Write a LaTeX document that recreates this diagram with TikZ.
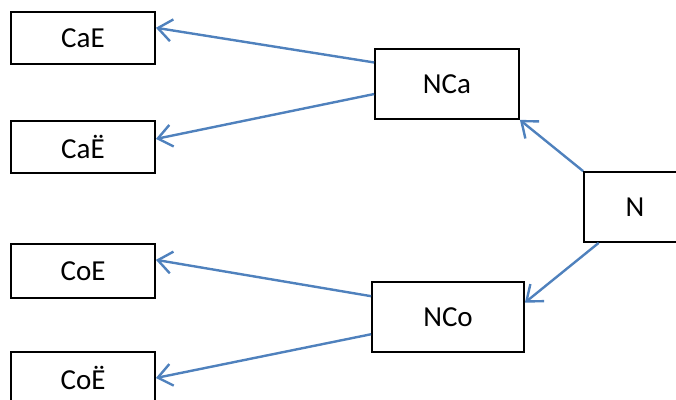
\documentclass[tikz,border=0pt]{standalone}
\usepackage{fontspec}
\setmainfont{Carlito}
\usetikzlibrary{arrows.meta,calc}
\definecolor{linkblue}{RGB}{79,129,189}

\begin{document}
\begin{tikzpicture}[x=1pt,y=-1pt,
	box/.style={draw,line width=1.8pt,minimum width=144pt,minimum height=52pt,inner sep=0pt,font=\fontsize{29}{34}\selectfont},
	link/.style={draw=linkblue,line width=2.4pt,-{Straight Barb[length=14pt,width=22pt,line width=2.4pt]}}]
	\useasboundingbox (0,0) rectangle (676,399);
	\node[box] (CaE) at (83,38) {CaE};
	\node[box] (CaEd) at (83,147) {CaË};
	\node[box,minimum height=54pt] (CoE) at (83,271) {CoE};
	\node[box] (CoEd) at (83,378) {CoË};
	\node[box,minimum height=70pt] (NCa) at (447,84) {NCa};
	\node[box,minimum width=152pt,minimum height=70pt] (NCo) at (448,317) {NCo};
	\node[box,minimum width=102pt,minimum height=70pt] (N) at (635,207) {N};
	\draw[link] ($(NCa.north west)!0.2!(NCa.south west)$)--($(CaE.north east)!0.31!(CaE.south east)$);
	\draw[link] ($(NCa.north west)!0.64!(NCa.south west)$)--($(CaEd.north east)!0.35!(CaEd.south east)$);
	\draw[link] (N.north west)--(NCa.south east);
	\draw[link] ($(N.south west)!0.15!(N.south east)$)--($(NCo.north east)!0.3!(NCo.south east)$);
	\draw[link] ($(NCo.north west)!0.21!(NCo.south west)$)--($(CoE.north east)!0.3!(CoE.south east)$);
	\draw[link] ($(NCo.north west)!0.74!(NCo.south west)$)--(CoEd.east);
\end{tikzpicture}
\end{document}
